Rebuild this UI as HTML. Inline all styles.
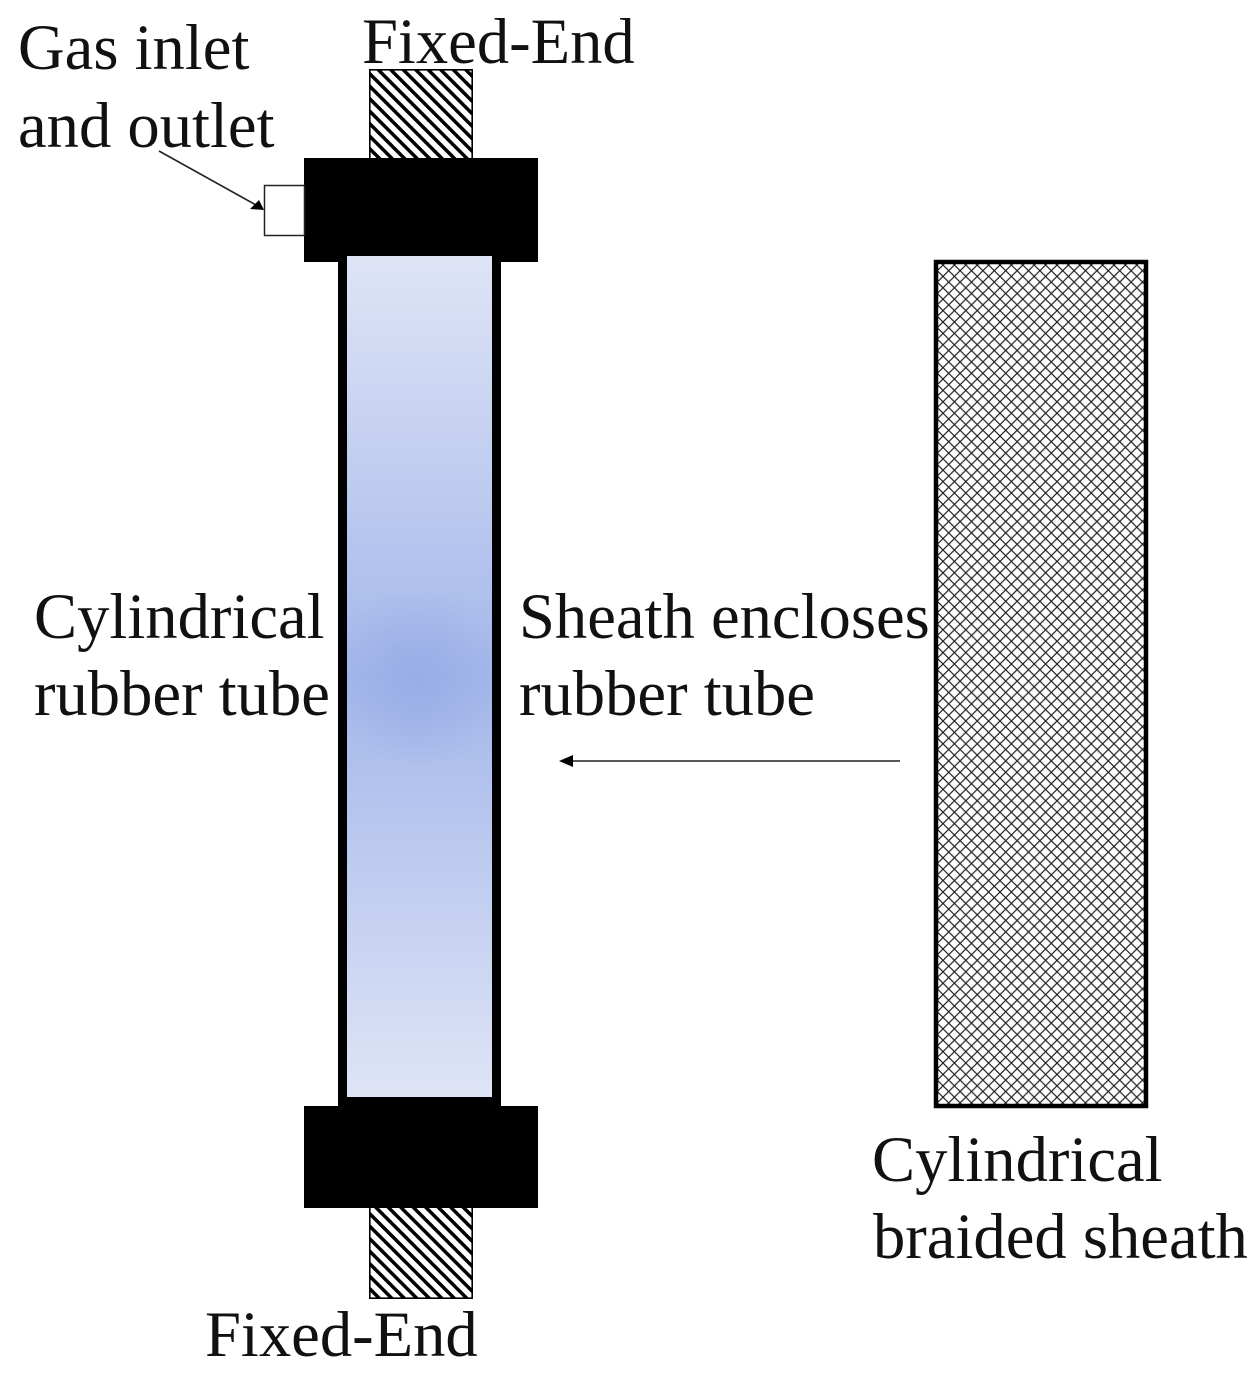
<!DOCTYPE html>
<html>
<head>
<meta charset="utf-8">
<style>
html,body{margin:0;padding:0;background:#fff;width:1260px;height:1376px;overflow:hidden}
svg{display:block}
text{font-family:"Liberation Serif",serif;font-size:64.6px;fill:#111}
</style>
</head>
<body>
<svg width="1260" height="1376" viewBox="0 0 1260 1376" xmlns="http://www.w3.org/2000/svg">
<defs>
<pattern id="mesh" width="11.4" height="11.4" patternUnits="userSpaceOnUse" patternTransform="translate(943 265)">
<rect width="11.4" height="11.4" fill="#fff"/>
<path d="M0 0L11.4 11.4M11.4 0L0 11.4" stroke="#222" stroke-width="1.2" fill="none"/>
</pattern>
<linearGradient id="vert" x1="0" y1="0" x2="0" y2="1">
<stop offset="0" stop-color="#dfe4f6"/>
<stop offset="0.5" stop-color="#a3b7ea"/>
<stop offset="1" stop-color="#dfe4f6"/>
</linearGradient>
<radialGradient id="center" gradientUnits="userSpaceOnUse" cx="418" cy="678" r="90">
<stop offset="0" stop-color="#98ade7" stop-opacity="1"/>
<stop offset="1" stop-color="#98ade7" stop-opacity="0"/>
</radialGradient>
<clipPath id="c1"><rect x="369" y="69" width="104" height="91"/></clipPath>
<clipPath id="c2"><rect x="369" y="1206" width="104" height="93"/></clipPath>
<path id="stripes" fill="none" stroke="#000" stroke-width="3.5" d="M369 -39.5l104 104M369 -27l104 104M369 -14.5l104 104M369 -2l104 104M369 10.500l104 104M369 23l104 104M369 35.500l104 104M369 48l104 104M369 60.500l104 104M369 73l104 104M369 85.500l104 104M369 98l104 104M369 110.500l104 104M369 123l104 104M369 135.500l104 104M369 148l104 104M369 160.500l104 104"/>
</defs>

<rect x="369" y="69" width="104" height="91" fill="#fff"/>
<g clip-path="url(#c1)"><use href="#stripes"/></g>
<rect x="369.800" y="69.800" width="102.400" height="90" fill="none" stroke="#000" stroke-width="1.600"/>

<rect x="369" y="1206" width="104" height="93" fill="#fff"/>
<g clip-path="url(#c2)"><use href="#stripes" transform="translate(0 1140)"/></g>
<rect x="369.800" y="1206" width="102.400" height="92.200" fill="none" stroke="#000" stroke-width="1.600"/>

<rect x="338" y="250" width="163" height="860" fill="#000"/>
<rect x="347" y="256" width="145" height="841" fill="url(#vert)"/>
<rect x="347" y="588" width="145" height="180" fill="url(#center)"/>

<rect x="304" y="158" width="234" height="98" fill="#000"/>
<rect x="304" y="256" width="43" height="6" fill="#000"/>
<rect x="492" y="256" width="46" height="6" fill="#000"/>
<rect x="304" y="1106" width="234" height="102" fill="#000"/>

<rect x="264.500" y="185.500" width="40" height="50" fill="#fff" stroke="#222" stroke-width="1.500"/>

<line x1="159" y1="151" x2="256" y2="205" stroke="#222" stroke-width="1.600"/>
<polygon points="264,210 250,209 259,200" fill="#000"/>

<rect x="936" y="262" width="210" height="844" fill="url(#mesh)" stroke="#000" stroke-width="4.500"/>

<line x1="568" y1="761" x2="900" y2="761" stroke="#222" stroke-width="1.600"/>
<polygon points="559,761 573,755 573,767" fill="#000"/>

<text x="362" y="63">Fixed-End</text>
<text x="18" y="69">Gas inlet</text>
<text x="18" y="147">and outlet</text>
<text x="34" y="638">Cylindrical</text>
<text x="34" y="715">rubber tube</text>
<text x="519" y="638">Sheath encloses</text>
<text x="519" y="715">rubber tube</text>
<text x="872" y="1181">Cylindrical</text>
<text x="873" y="1258">braided sheath</text>
<text x="205" y="1356">Fixed-End</text>
</svg>
</body>
</html>
